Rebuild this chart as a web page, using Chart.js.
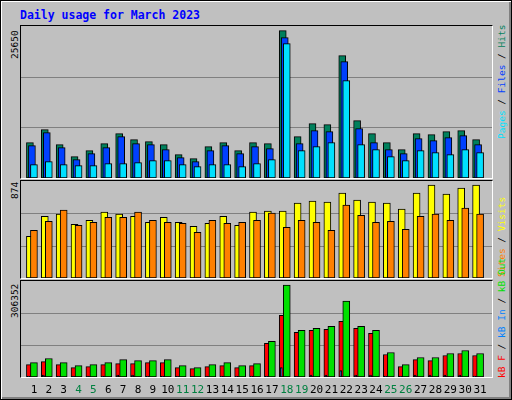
<!DOCTYPE html>
<html>
<head>
<meta charset="utf-8">
<script src="https://cdn.jsdelivr.net/npm/chart.js@4/dist/chart.umd.min.js"></script>
<style>
  body { margin: 0; background: #fff; }
  #wrap { position: relative; width: 510px; height: 398px; background: #c0c0c0; border: 1px solid #000;
          box-shadow: inset 1px 1px 0 #fff, inset -2px -2px 0 #808080; font-family: "DejaVu Sans Mono", monospace; }
  .title { position: absolute; left: 19px; top: 7px; color: #0000ff; font-weight: bold; font-size: 11.5px; }
  .frame { position: absolute; border-top: 1px solid #000; border-left: 1px solid #000;
           border-right: 1px solid #fff; border-bottom: 1px solid #fff; }
  canvas { position: absolute; }
  .vlab { position: absolute; font-size: 9.5px; white-space: nowrap; transform-origin: 0 0; transform: rotate(-90deg); }
</style>
</head>
<body>
<div id="wrap">
  <div class="title">Daily usage for March 2023</div>
  <div class="frame" style="left:19px;top:24px;width:471px;height:152px"></div>
  <div class="frame" style="left:19px;top:179px;width:471px;height:97px"></div>
  <div class="frame" style="left:19px;top:279px;width:471px;height:96px"></div>
  <canvas id="c1" style="left:20px;top:25px"></canvas>
  <canvas id="c2" style="left:20px;top:180px"></canvas>
  <canvas id="c3" style="left:20px;top:280px"></canvas>
  <div class="vlab" style="left:8px;top:58px;color:#000">25650</div>
  <div class="vlab" style="left:8px;top:198px;color:#000">874</div>
  <div class="vlab" style="left:8px;top:317px;color:#000">306352</div>
  <div class="vlab" style="left:495px;top:138px"><span style="color:#00e0ff">Pages</span> / <span style="color:#0040ff">Files</span> / <span style="color:#00805c">Hits</span></div>
  <div class="vlab" style="left:495px;top:276px"><span style="color:#ff8000">Sites</span> / <span style="color:#ffff00">Visits</span></div>
  <div class="vlab" style="left:495px;top:377px"><span style="color:#ff0000">kB F</span> / <span style="color:#0080ff">kB In</span> / <span style="color:#00e000">kB Out</span></div>
</div>
<script>
const days = Array.from({length: 31}, (_, i) => i + 1);
const weekends = [4, 5, 11, 12, 18, 19, 25, 26];

const hits = [5963,8156,5625,3600,4613,5794,7481,6469,6131,5625,3938,3263,5288,5963,4613,5963,5794,24863,6975,9169,9000,20644,9675,7481,5963,4781,7481,7313,7819,7988,6469];
const files = [5456,7650,5119,3094,4106,5119,6975,5794,5625,4781,3431,2756,4613,5456,4106,5288,4950,23681,5794,7988,7819,19631,8325,5963,4781,4106,6638,6300,6806,7144,5625];
const pages = [2250,2756,2250,2081,2081,2419,2419,2588,2925,2925,2250,1913,2250,2250,1913,2419,3094,22669,4613,5288,5963,16425,5625,4781,3600,2925,4613,4275,3938,4781,4275];

const visits = [375,556,575,484,520,593,575,556,502,547,502,466,493,556,475,593,602,602,674,692,683,765,702,683,674,620,765,838,756,810,838];
const sites = [429,511,611,475,502,547,547,593,520,502,493,411,520,493,502,520,584,457,520,502,429,656,565,502,511,438,556,575,520,629,575];

const kbOut = [46053,58905,46053,36414,39627,46053,55692,52479,52479,55692,36414,29988,39627,46053,36414,42840,113526,293454,148869,155295,161721,242046,161721,148869,78183,39627,62118,62118,74970,84609,74970];
const kbF = [39627,49266,39627,29988,33201,39627,42840,42840,46053,46053,29988,26775,33201,36414,29988,36414,107100,197064,142443,148869,152082,177786,155295,139230,71757,33201,55692,52479,68544,74970,68544];
const kbIn = [3000,6400,3000,3000,3000,3000,6400,6400,3000,3000,3000,3000,3000,3000,3000,3000,3000,29988,3000,6400,6400,20349,6400,6400,3000,3000,6400,6400,6400,6400,3000];

const maxes = [25650, 874, 306352];

function ds(values, color, shift, thick) {
  return {
    data: values.map((v, i) => ({x: days[i] + shift, y: v})),
    backgroundColor: color, borderColor: '#000', borderWidth: 1,
    barThickness: thick, grouped: false, borderSkipped: false
  };
}

const gridPlugin = {
  id: 'grid',
  beforeDatasetsDraw(chart) {
    const {ctx, chartArea: a, scales: {y}} = chart;
    const m = y.max;
    ctx.save();
    ctx.strokeStyle = '#808080';
    ctx.lineWidth = 1;
    [m / 3, 2 * m / 3].forEach(v => {
      const py = Math.round(y.getPixelForValue(v)) + 0.5;
      ctx.beginPath(); ctx.moveTo(a.left, py); ctx.lineTo(a.right, py); ctx.stroke();
    });
    ctx.restore();
  }
};

const dayLabels = {
  id: 'dayLabels',
  afterDraw(chart) {
    if (!chart.options.plugins.dayLabels.show) return;
    const {ctx, chartArea: a, scales: {x}} = chart;
    ctx.save();
    ctx.font = '11px "DejaVu Sans Mono", monospace';
    ctx.textAlign = 'center';
    ctx.textBaseline = 'middle';
    days.forEach(d => {
      ctx.fillStyle = weekends.includes(d) ? '#008040' : '#000';
      ctx.fillText(String(d), x.getPixelForValue(d), a.bottom + 13);
    });
    ctx.restore();
  }
};

function new_chart(id, h, datasets, max, labels) {
  const cv = document.getElementById(id);
  cv.width = 471; cv.height = h + (labels ? 24 : 0);
  cv.style.width = '471px'; cv.style.height = cv.height + 'px';
  new Chart(cv.getContext('2d'), {
    type: 'bar',
    plugins: [gridPlugin, dayLabels],
    data: {datasets},
    options: {
      responsive: false, animation: false, devicePixelRatio: 1,
      layout: {padding: {top: 0, left: 0, right: 0, bottom: labels ? 24 : 0}},
      scales: {
        x: {type: 'linear', min: 0.13, max: 31.8, offset: false, display: false},
        y: {min: 0, max, display: false}
      },
      plugins: {legend: {display: false}, tooltip: {enabled: false}, dayLabels: {show: labels}}
    }
  });
}

// first dataset is drawn on top
new_chart('c1', 152, [
  ds(pages, '#00e0ff', 0, 7),
  ds(files, '#0040ff', -0.135, 7),
  ds(hits, '#00805c', -0.27, 7)
], maxes[0], false);

new_chart('c2', 97, [
  ds(sites, '#ff8000', 0, 7),
  ds(visits, '#ffff00', -0.27, 7)
], maxes[1], false);

new_chart('c3', 96, [
  ds(kbIn, '#0080ff', -0.37, 2),
  ds(kbOut, '#00e000', 0, 7),
  ds(kbF, '#ff0000', -0.27, 7)
], maxes[2], true);
</script>
</body>
</html>
